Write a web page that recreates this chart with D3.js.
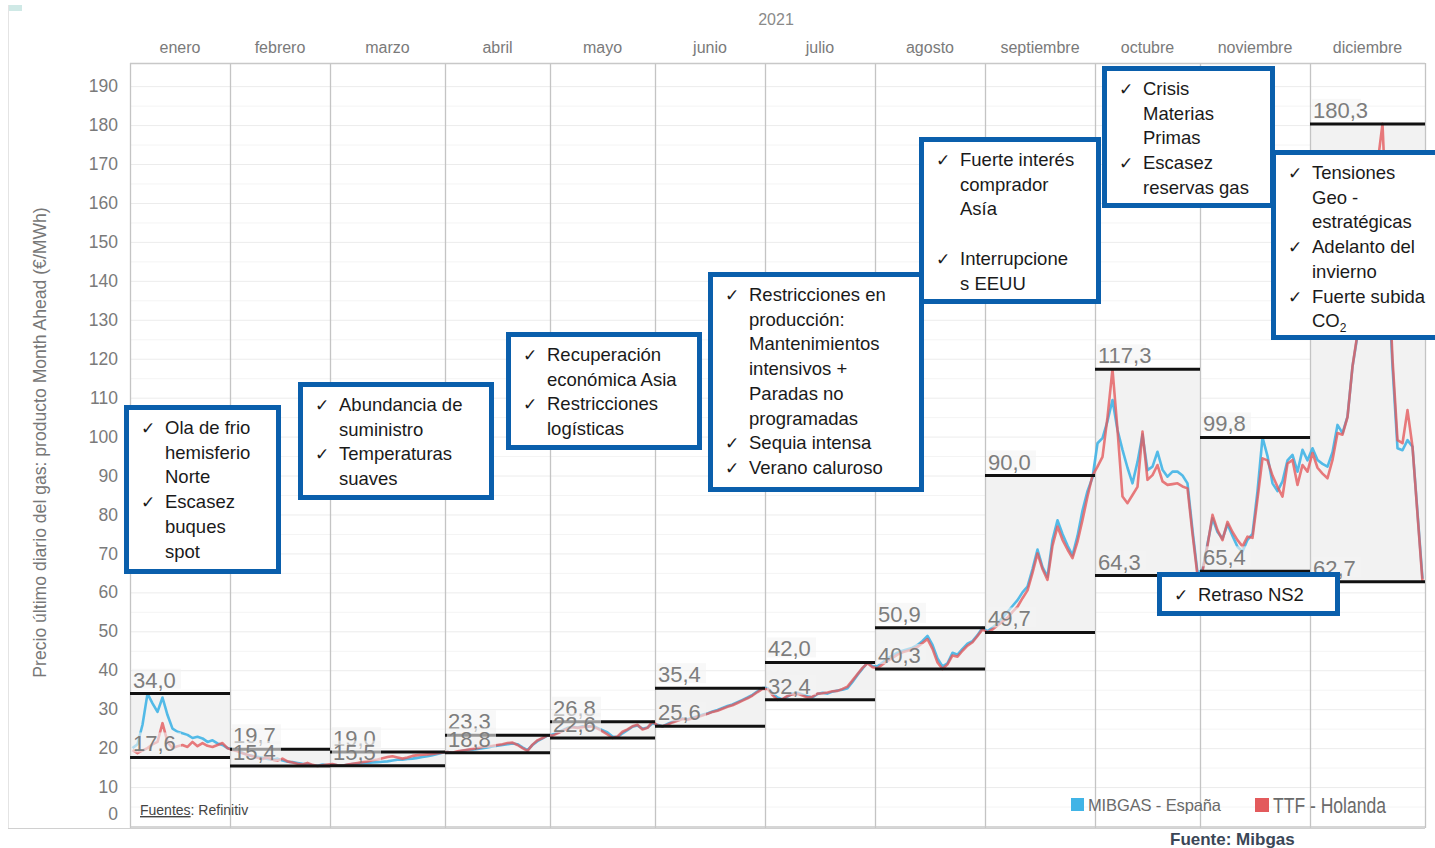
<!DOCTYPE html>
<html><head><meta charset="utf-8">
<script src="https://cdn.jsdelivr.net/npm/d3@7"></script>
<style>body{margin:0;background:#fff;} svg{display:block;font-family:"Liberation Sans",Arial,sans-serif;}</style>
</head><body><svg id="c" width="1435" height="848"></svg>
<script>
// ---------------- DATA ----------------
const yearLabel = "2021";
const months = ["enero","febrero","marzo","abril","mayo","junio","julio","agosto","septiembre","octubre","noviembre","diciembre"];
const tradingDays = [20,20,23,21,21,22,22,22,22,21,22,23];
const monthMax = [34.0,19.7,19.0,23.3,26.8,35.4,42.0,50.9,90.0,117.3,99.8,180.3];
const monthMin = [17.6,15.4,15.5,18.8,22.6,25.6,32.4,40.3,49.7,64.3,65.4,62.7];
const yTicks = [0,10,20,30,40,50,60,70,80,90,100,110,120,130,140,150,160,170,180,190];
const seriesNames = ["MIBGAS - España","TTF - Holanda"];
// daily month-ahead prices (€/MWh), one value per trading day
const mibgas = [
 // ene
 20.0,21.0,26.0,34.0,31.5,29.3,33.0,28.5,25.0,24.2,23.8,23.4,22.6,22.9,22.5,21.6,22.0,21.2,20.8,20.0,
 // feb
 19.7,19.3,18.8,18.2,18.0,17.8,17.5,17.2,17.0,17.3,16.8,16.5,16.4,16.2,16.0,15.9,15.6,15.5,15.8,15.6,
 // mar
 15.8,15.6,15.5,15.7,15.9,16.0,16.1,16.2,16.3,16.4,16.5,16.6,16.8,17.0,17.0,17.2,17.3,17.5,17.7,17.9,18.2,18.5,18.8,
 // abr
 19.0,18.8,19.0,19.3,19.5,19.6,19.8,20.0,20.2,20.4,20.6,20.8,21.0,21.2,21.0,20.2,19.5,20.8,21.8,22.5,23.2,
 // may
 23.5,24.0,24.6,25.2,25.5,25.3,25.6,25.4,25.8,25.2,24.6,24.0,23.0,22.8,23.8,24.6,25.5,25.8,25.0,25.3,26.3,
 // jun
 26.0,25.6,26.2,26.8,27.2,27.6,27.4,27.8,28.2,28.6,28.9,29.4,29.8,30.3,30.8,31.2,31.8,32.4,33.0,33.7,34.6,35.4,
 // jul
 35.4,34.0,33.0,32.5,33.2,34.0,34.2,33.8,33.3,33.0,33.9,34.2,34.0,34.5,34.8,35.0,35.4,37.0,38.8,40.4,42.0,41.0,
 // ago
 41.0,42.0,43.0,43.8,44.5,45.0,45.4,45.8,46.5,47.5,48.8,46.5,43.0,41.0,41.8,44.5,44.0,45.5,46.8,47.5,49.0,50.9,
 // sep
 50.0,51.0,52.0,53.5,55.0,56.5,58.0,60.0,61.5,66.0,71.0,66.5,64.0,73.5,78.5,75.0,72.0,69.5,74.5,81.0,86.0,89.5,
 // oct
 98.3,99.6,104.0,109.4,101.7,96.6,92.0,88.0,93.5,100.5,91.4,92.3,96.1,91.5,89.7,91.0,91.0,90.0,88.0,76.0,65.0,
 // nov
 65.8,72.5,79.0,75.5,73.8,77.5,74.5,71.7,70.5,73.5,75.0,86.0,99.8,95.0,88.0,86.0,88.5,93.9,95.3,91.0,96.6,93.9,
 // dic
 97.0,94.0,93.0,92.3,96.0,103.0,100.9,105.1,118.0,126.0,138.0,148.0,156.0,165.0,170.0,145.0,118.0,97.0,96.5,99.1,97.4,80.5,63.5
];
const ttf = [
 // ene
 19.5,18.7,19.4,20.0,21.0,21.6,26.4,21.6,20.0,20.5,20.8,20.3,21.6,20.5,21.3,20.6,20.3,20.8,21.3,20.0,
 // feb
 19.5,19.2,18.7,18.3,17.9,17.5,17.2,17.6,17.0,16.8,17.3,16.6,16.3,16.0,15.8,16.2,15.7,15.4,15.6,15.8,
 // mar
 15.9,15.6,15.5,15.8,16.0,16.2,16.4,16.6,16.9,17.1,17.4,17.7,17.9,17.6,17.3,17.6,18.0,18.2,18.3,18.4,18.5,18.7,18.9,
 // abr
 19.0,18.8,19.2,19.4,19.6,19.8,20.0,20.3,20.5,20.6,20.8,21.0,21.3,21.4,20.8,20.0,19.3,20.9,22.0,22.6,23.3,
 // may
 23.2,23.8,24.4,25.0,25.4,25.2,25.4,25.6,25.5,25.0,24.3,23.5,22.6,23.0,24.2,24.8,25.6,26.0,24.8,25.2,26.8,
 // jun
 25.8,25.6,26.0,26.6,27.0,27.5,27.3,27.6,28.0,28.4,28.8,29.3,29.6,30.1,30.6,31.0,31.6,32.2,32.8,33.5,34.4,35.2,
 // jul
 35.2,33.6,32.4,32.6,33.4,33.8,34.0,33.5,33.0,33.2,34.0,34.1,34.3,34.6,34.7,35.2,35.8,37.4,39.0,40.6,41.8,40.8,
 // ago
 40.5,41.5,42.4,43.2,44.0,44.6,45.0,45.4,46.0,47.0,48.0,45.5,42.0,40.3,41.5,43.8,43.5,45.0,46.3,47.2,48.8,50.5,
 // sep
 49.7,50.5,51.5,52.5,53.5,55.0,56.3,58.5,60.5,65.0,70.0,66.0,63.2,72.0,76.9,73.5,71.0,68.8,73.0,78.6,84.6,90.0,
 // oct
 92.3,94.8,105.0,117.3,101.7,84.6,82.9,85.0,87.1,101.3,88.9,90.1,92.7,88.5,87.6,87.8,88.0,87.2,86.7,75.0,64.3,
 // nov
 65.4,72.0,79.9,76.0,73.4,78.1,75.5,73.4,71.8,74.3,74.0,84.0,94.4,93.9,90.0,87.1,84.6,93.1,94.0,87.6,92.7,91.0,
 // dic
 95.8,92.0,90.5,89.3,94.0,100.9,100.5,105.0,118.0,126.5,140.0,150.0,160.0,170.0,180.3,150.0,120.0,99.1,98.3,106.8,97.4,80.0,62.7
];
const annotationTexts = [
 ["✓Ola de frio","hemisferio","Norte","✓Escasez","buques","spot"],
 ["✓Abundancia de","suministro","✓Temperaturas","suaves"],
 ["✓Recuperación","económica Asia","✓Restricciones","logísticas"],
 ["✓Restricciones en","producción:","Mantenimientos","intensivos +","Paradas no","programadas","✓Sequia intensa","✓Verano caluroso"],
 ["✓Fuerte interés","comprador","Asía","","✓Interrupcione","s EEUU"],
 ["✓Crisis","Materias","Primas","✓Escasez","reservas gas"],
 ["✓Tensiones","Geo -","estratégicas","✓Adelanto del","invierno","✓Fuerte subida","CO_2"],
 ["✓Retraso NS2"]
];
const yTitle = "Precio último diario del gas: producto Month Ahead (€/MWh)";
const sourceLeft = ["Fuentes",": Refinitiv"];
const sourceRight = "Fuente: Mibgas";

// ---------------- LAYOUT ----------------
const annLayout = [
 {x:124,y:405,w:157,h:169},
 {x:298,y:382,w:196,h:118},
 {x:506,y:332,w:196,h:118},
 {x:708,y:272,w:216,h:220},
 {x:919,y:137,w:182,h:167},
 {x:1102,y:66,w:173,h:142},
 {x:1271,y:150,w:190,h:190},
 {x:1157,y:572,w:183,h:44}
];
const plotL=130, plotR=1425, plotT=63, plotB=826;
const blue="#41b4e6", red="#e35a5c", boxBlue="#0a5fac";

const svg=d3.select("#c");
const cum=[0]; tradingDays.forEach((d,i)=>cum.push(cum[i]+d));
const nDays=cum[cum.length-1];
const x=d3.scaleLinear().domain([0,nDays]).range([plotL,plotR]);
const y=d3.scaleLinear().domain([0,190]).range([plotB,plotB-190*3.894]);

// outer frame
svg.append("rect").attr("x",8).attr("y",5).attr("width",14).attr("height",6).attr("fill","#cfe9e6");
svg.append("line").attr("x1",8.5).attr("x2",8.5).attr("y1",5).attr("y2",828).attr("stroke","#e4e4e4");
svg.append("line").attr("x1",8).attr("x2",plotR).attr("y1",828.5).attr("y2",828.5).attr("stroke","#d0d0d0");

// gridlines
const g=svg.append("g");
g.selectAll("line.grid").data(d3.range(5,195,5)).join("line")
 .attr("x1",plotL).attr("x2",plotR).attr("y1",d=>y(d)+0.5).attr("y2",d=>y(d)+0.5)
 .attr("stroke",d=>d%10===0?"#ececec":"#f4f4f4");

// min-max bands
g.selectAll("rect.band").data(months).join("rect")
 .attr("x",(d,i)=>x(cum[i])).attr("width",(d,i)=>x(cum[i+1])-x(cum[i]))
 .attr("y",(d,i)=>y(monthMax[i])).attr("height",(d,i)=>y(monthMin[i])-y(monthMax[i]))
 .attr("fill","#f2f2f2");

// month separators + frame
g.selectAll("line.sep").data(cum).join("line")
 .attr("x1",d=>x(d)+0.5).attr("x2",d=>x(d)+0.5).attr("y1",plotT).attr("y2",plotB+2)
 .attr("stroke","#c4c4c4").attr("stroke-width",1.3);
svg.append("line").attr("x1",plotL).attr("x2",plotR).attr("y1",plotT+0.5).attr("y2",plotT+0.5).attr("stroke","#c8c8c8").attr("stroke-width",1.3);
svg.append("line").attr("x1",plotL).attr("x2",plotR).attr("y1",plotB+1).attr("y2",plotB+1).attr("stroke","#c8c8c8").attr("stroke-width",1.3);

// axis
const ax=svg.append("g").attr("transform",`translate(${plotL},0)`)
 .call(d3.axisLeft(y).tickValues(yTicks).tickSize(0).tickPadding(12).tickFormat(d3.format("d")));
ax.select(".domain").remove();
ax.selectAll("text").attr("font-size",17.5).attr("fill","#7a7a7a").attr("font-family","Liberation Sans, Arial, sans-serif");
ax.selectAll(".tick").filter(d=>d===0).select("text").attr("dy","-0.4em");

svg.append("text").attr("transform",`translate(46,${(207+678)/2}) rotate(-90)`)
 .attr("text-anchor","middle").attr("font-size",17.6).attr("fill","#777").text(yTitle);

// header
svg.append("text").attr("x",776).attr("y",25).attr("text-anchor","middle").attr("font-size",16).attr("fill","#8a8a8a").text(yearLabel);
svg.selectAll("text.month").data(months).join("text")
 .attr("x",(d,i)=>x((cum[i]+cum[i+1])/2)).attr("y",53).attr("text-anchor","middle")
 .attr("font-size",16).attr("fill","#7a7a7a").text(d=>d);

// series lines
const line=d3.line().x((d,i)=>x(i+0.5)).y(d=>y(d));
svg.append("path").datum(mibgas).attr("d",line).attr("fill","none").attr("stroke",blue).attr("stroke-width",2.6).attr("stroke-linejoin","round").attr("opacity",0.9);
svg.append("path").datum(ttf).attr("d",line).attr("fill","none").attr("stroke",red).attr("stroke-width",2.6).attr("stroke-linejoin","round").attr("opacity",0.8);

// min/max black lines
const fmt=v=>v.toFixed(1).replace(".",",");
["max","min"].forEach(k=>{
 const arr=k==="max"?monthMax:monthMin;
 svg.selectAll("line."+k).data(arr).join("line")
  .attr("x1",(d,i)=>x(cum[i])).attr("x2",(d,i)=>x(cum[i+1]))
  .attr("y1",d=>y(d)).attr("y2",d=>y(d)).attr("stroke","#111").attr("stroke-width",3);
});
["max","min"].forEach(k=>{
 const arr=k==="max"?monthMax:monthMin;
 const lg=svg.selectAll("g.lab"+k).data(arr).join("g");
 lg.append("rect").attr("x",(d,i)=>x(cum[i])+2).attr("y",d=>y(d)-25).attr("width",49).attr("height",20)
   .attr("fill","#f4f4f4").attr("opacity",0.6);
 lg.append("text").attr("x",(d,i)=>x(cum[i])+3).attr("y",d=>y(d)-6)
   .attr("font-size",22).attr("fill","#7d7d7d").text(d=>fmt(d));
});

// annotation boxes
annLayout.forEach((b,i)=>{
 const bg=svg.append("g");
 bg.append("rect").attr("x",b.x+2.5).attr("y",b.y+2.5).attr("width",b.w-5).attr("height",b.h-5)
  .attr("fill","#fff").attr("stroke",boxBlue).attr("stroke-width",5);
 annotationTexts[i].forEach((t,j)=>{
  const by=b.y+29+j*24.7;
  let s=t;
  if(s.startsWith("✓")){
   bg.append("text").attr("x",b.x+17).attr("y",by).attr("font-size",17).attr("fill","#1a1a1a")
     .attr("font-family","DejaVu Sans, sans-serif").text("✓");
   s=s.slice(1);
  }
  const tx=bg.append("text").attr("x",b.x+41).attr("y",by).attr("font-size",18.5).attr("fill","#1a1a1a");
  if(s.includes("_")){
   const [a,sub]=s.split("_");
   tx.append("tspan").text(a);
   tx.append("tspan").attr("font-size",12).attr("dy",5).text(sub);
  } else tx.text(s);
 });
});

// source left
const st=svg.append("text").attr("x",140).attr("y",815).attr("font-size",14).attr("fill","#444");
st.append("tspan").attr("text-decoration","underline").text(sourceLeft[0]);
st.append("tspan").text(sourceLeft[1]);

// legend
svg.append("rect").attr("x",1071).attr("y",798).attr("width",13).attr("height",13).attr("fill",blue);
svg.append("text").attr("x",1088).attr("y",811).attr("font-size",16.5).attr("fill","#6a6a6a").attr("textLength",133).text(seriesNames[0]);
svg.append("rect").attr("x",1255).attr("y",798).attr("width",14).attr("height",14).attr("fill",red);
svg.append("text").attr("x",1273).attr("y",813).attr("font-size",22).attr("fill","#6a6a6a").attr("textLength",113).attr("lengthAdjust","spacingAndGlyphs").text(seriesNames[1]);

svg.append("text").attr("x",1170).attr("y",845).attr("font-size",17).attr("font-weight","bold").attr("fill","#3a4656").text(sourceRight);
</script></body></html>
